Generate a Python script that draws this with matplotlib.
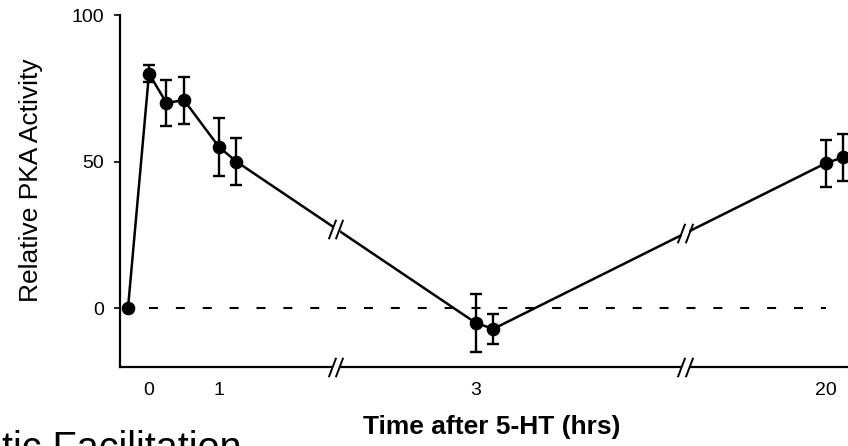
import numpy as np
import matplotlib
matplotlib.use("Agg")
import matplotlib.pyplot as plt
import matplotlib.transforms as mtransforms

plt.rcParams['font.family'] = ['Liberation Sans', 'DejaVu Sans']

# data (time in hrs after 5-HT; baseline drawn just before 0)
times = [-0.3, 0.0, 0.25, 0.5, 1.0, 1.25, 3.0, 3.25, 20.0, 20.25]
pka = [0, 80, 70, 71, 55, 50, -5, -7, 49.5, 51.5]
pka_err = [0, 3, 8, 8, 10, 8, 10, 5, 8, 8]
zero_span = [0, 20]
xticks = [0, 1, 3, 20]
xtick_labels = ['0', '1', '3', '20']
yticks = [0, 50, 100]
breaks = [2.0, 13.0]

# broken time axis: piecewise linear scale
t_knots = [-1, 1.5, 2.75, 3.5, 19.75, 21]
u_knots = [-1, 1.5, 4.42, 5.17, 9.42, 10.67]

def fwd(t):
    return np.interp(t, t_knots, u_knots)

def inv(u):
    return np.interp(u, u_knots, t_knots)


def main():
    fig = plt.figure(figsize=(8.48, 4.46), dpi=100)
    ax = fig.add_axes([120 / 848, 79 / 446, 750 / 848, 352 / 446])
    ax.set_xscale('function', functions=(fwd, inv))
    ax.set_xlim(inv(-0.414), inv(10.3))
    ax.set_ylim(-20, 100)

    ax.plot(zero_span, [0, 0], color='black', lw=1.5, ls=(0, (4.3, 8.6)), zorder=1)
    ax.errorbar(times, pka, yerr=pka_err, fmt='o-', color='black', ms=8.8, lw=1.8,
                elinewidth=1.7, capsize=4.5, capthick=1.7, zorder=3, clip_on=False)

    # break marks on the axis and on the line
    u_data = fwd(np.array(times))
    slash = [(-0.38, -1), (0.38, 1)]
    for b in breaks:
        yline = np.interp(fwd(b), u_data, pka)
        for yy in (-20, yline):
            ax.plot([b], [yy], marker='s', ms=4.5, color='white', mec='white',
                    zorder=5, clip_on=False)
            for dx in (-2.7, 2.7):
                tr = mtransforms.offset_copy(ax.transData, fig=fig, x=dx, y=0, units='points')
                ax.plot([b], [yy], marker=slash, ms=14, mew=1.4, color='black',
                        transform=tr, zorder=6, clip_on=False)

    for s in ['top', 'right']:
        ax.spines[s].set_visible(False)
    for s in ['left', 'bottom']:
        ax.spines[s].set_linewidth(1.6)

    ax.set_xticks(xticks)
    ax.set_xticklabels(xtick_labels)
    ax.xaxis.set_minor_locator(matplotlib.ticker.NullLocator())
    ax.tick_params(axis='x', length=0, pad=11, labelsize=14)
    ax.set_yticks(yticks)
    ax.tick_params(axis='y', direction='out', length=4.5, width=1.2, pad=7, labelsize=14)

    ax.set_ylabel('Relative PKA Activity', fontsize=19)
    ax.yaxis.set_label_coords(-0.103, 0.531)
    ax.set_xlabel('Time after 5-HT (hrs)', fontsize=19, fontweight='bold')
    ax.xaxis.set_label_coords(0.496, -0.136)

    fig.text(0.0024, -0.032, 'tic Facilitation', fontsize=28.5, va='baseline', ha='left')

    fig.savefig('out.png', dpi=100)


if __name__ == "__main__":
    main()
